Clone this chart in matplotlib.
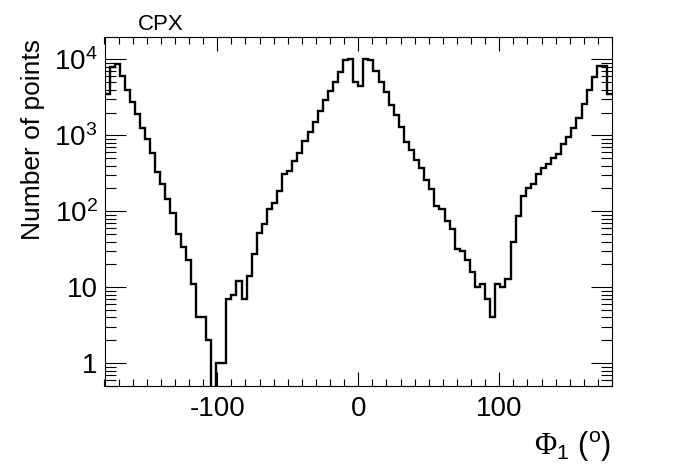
import numpy as np
import matplotlib
matplotlib.use("Agg")
import matplotlib.pyplot as plt
from matplotlib.ticker import FixedLocator, LogLocator, FuncFormatter, MultipleLocator, NullFormatter

plt.rcParams['font.family'] = ['Liberation Sans', 'DejaVu Sans']
plt.rcParams['mathtext.fontset'] = 'custom'
plt.rcParams['mathtext.rm'] = 'Liberation Serif'
plt.rcParams['mathtext.sf'] = 'Liberation Sans'
plt.rcParams['mathtext.it'] = 'Liberation Sans:italic'
plt.rcParams['mathtext.bf'] = 'Liberation Sans:bold'

title = "CPX"
ylabel = "Number of points"
xlabel = r"$\Phi_{\mathsf{1}}$ ($^{\mathsf{o}}$)"

x_min, x_max, n_bins = -180.0, 180.0, 100
counts = [3560, 7990, 8600, 6000, 3960, 2770, 1900, 1260, 890, 590,
          332, 227, 144, 96, 51, 34, 23, 11, 4, 4,
          2, 0, 1, 1, 7, 8, 12, 7, 14, 27,
          52, 69, 107, 130, 188, 310, 343, 460, 590, 850,
          1120, 1520, 2100, 2900, 3800, 5000, 6900, 9800, 10300, 5000,
          4460, 10100, 9800, 7070, 5100, 3700, 2500, 1860, 1300, 830,
          650, 470, 370, 260, 195, 119, 106, 75, 58, 32,
          30, 23, 16, 10, 11, 7, 4, 11, 10, 13,
          40, 87, 160, 203, 230, 310, 370, 420, 500, 570,
          770, 940, 1240, 1670, 2600, 3960, 5800, 8100, 8100, 3560]
x_ticks = [-100, 0, 100]
y_ticks = [1, 10, 100, 1000, 10000]

edges = np.linspace(x_min, x_max, n_bins + 1)
vals = np.asarray(counts, dtype=float)
vals_plot = np.where(vals > 0, vals, 1e-3)

fig = plt.figure(figsize=(6.96, 4.74), dpi=100)
ax = fig.add_axes([104.5/696, 1-386/474, (612-104.5)/696, (386-37.3)/474])
ax.stairs(vals_plot, edges, baseline=None, color='black', linewidth=1.7)
ax.set_yscale('log')
ax.set_xlim(x_min, x_max)
ax.set_ylim(0.5, 1.96e4)

ax.xaxis.set_major_locator(FixedLocator(x_ticks))
ax.xaxis.set_minor_locator(MultipleLocator(10))
ax.yaxis.set_major_locator(FixedLocator(y_ticks))
ax.yaxis.set_minor_locator(LogLocator(base=10, subs=np.arange(2, 10)))
ax.yaxis.set_minor_formatter(NullFormatter())

def yfmt(v, pos):
    e = int(round(np.log10(v)))
    if e == 0:
        return "1"
    if e == 1:
        return "10"
    return r"$\mathsf{10}^{\mathsf{%d}}$" % e
ax.yaxis.set_major_formatter(FuncFormatter(yfmt))
ax.xaxis.set_major_formatter(FuncFormatter(lambda v, p: "%d" % v))

ax.tick_params(axis='both', which='both', direction='in', top=True, right=True, width=0.8, colors='black')
ax.tick_params(axis='x', which='major', length=10, pad=7, labelsize=20)
ax.tick_params(axis='x', which='minor', length=5)
ax.tick_params(axis='y', which='major', length=15, pad=5, labelsize=20)
ax.tick_params(axis='y', which='minor', length=8)
for s in ax.spines.values():
    s.set_linewidth(0.8)

fig.text(161/696, 1-24.5/474, title, ha='center', va='center', fontsize=16)
fig.text(33/696, 1-139/474, ylabel, rotation=90, ha='center', va='center', fontsize=19)
fig.text(611/696, 1-447/474, xlabel, ha='right', va='center', fontsize=22)

fig.savefig("out.png", dpi=100)
